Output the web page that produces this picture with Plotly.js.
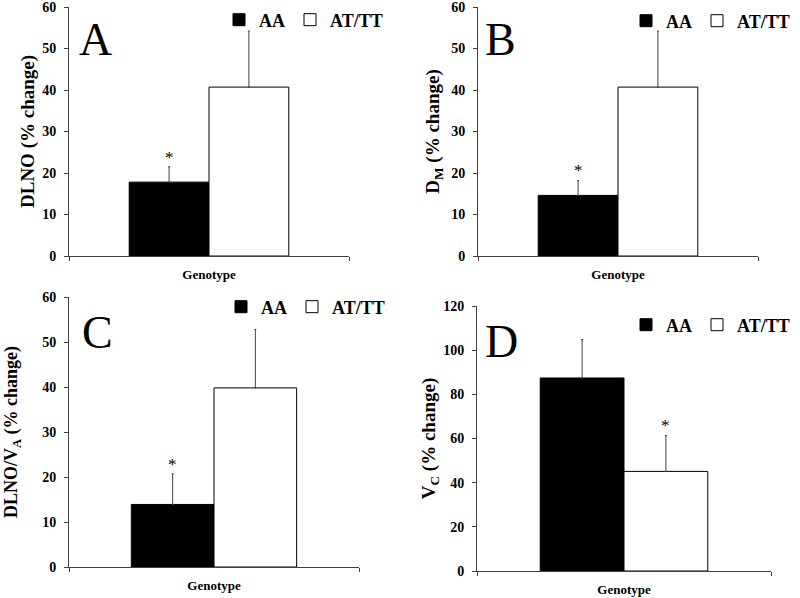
<!DOCTYPE html>
<html>
<head>
<meta charset="utf-8">
<script src="https://cdn.plot.ly/plotly-3.0.1.min.js"></script>
<style>html,body{margin:0;padding:0;background:#fff;}#chart{width:800px;height:598px;}</style>
</head>
<body>
<div id="chart"></div>
<script>
// ---- data ----
const categories = ['Genotype'];
const groupNames = ['AA', 'AT/TT'];
const panelLetters = ['A', 'B', 'C', 'D'];
const yTitles = ['DLNO (% change)', 'D<sub>M</sub> (% change)', 'DLNO/V<sub>A</sub> (% change)', 'V<sub>C</sub> (% change)'];
const aaMean = [17.8, 14.6, 13.9, 87.4];
const aaErr = [3.7, 3.6, 6.8, 17.4];
const attMean = [40.7, 40.7, 39.8, 45.1];
const attErr = [13.5, 13.5, 13.0, 16.3];
const yMax = [60, 60, 60, 120];
const yStep = [10, 10, 10, 20];
const sigGroup = ['AA', 'AA', 'AA', 'AT/TT'];

// ---- layout (positions in px) ----
const W = 800, H = 598;
const boxes = [ // [left, right, top, bottom] of plot areas
  [69, 349, 7, 256],
  [478, 758, 7, 256],
  [69, 359, 297, 567],
  [477, 771, 306, 571]
];
const legendPos = [[388, 20], [795, 21], [390, 307], [795, 325]];
const letterPos = [[95, 40], [500, 40], [97, 332], [502, 341]];
const titleStandoff = [2, 6, 19, 2];
const titleSize = [19, 19, 18, 19];
const BARGAP = 0.43;

const FONT = 'Liberation Serif';
const AXC = '#404040';
const traces = [];
const layout = {
  width: W, height: H,
  margin: {l: 0, r: 0, t: 0, b: 0},
  paper_bgcolor: '#fff', plot_bgcolor: '#fff',
  barmode: 'group', bargap: BARGAP, bargroupgap: 0,
  font: {family: FONT, color: '#000', size: 14},
  showlegend: true,
  annotations: []
};

for (let i = 0; i < 4; i++) {
  const s = i === 0 ? '' : String(i + 1);
  const xa = 'x' + s, ya = 'y' + s, lg = 'legend' + s;
  const [l, r, t, b] = boxes[i];
  traces.push({
    type: 'bar', name: groupNames[0], x: categories, y: [aaMean[i]],
    xaxis: xa, yaxis: ya, legend: lg,
    marker: {color: '#000', line: {color: '#000', width: 1}},
    error_y: {type: 'data', array: [aaErr[i]], arrayminus: [0], symmetric: false, color: AXC, thickness: 1, width: 1}
  });
  traces.push({
    type: 'bar', name: groupNames[1], x: categories, y: [attMean[i]],
    xaxis: xa, yaxis: ya, legend: lg,
    marker: {color: '#fff', line: {color: '#000', width: 1}},
    error_y: {type: 'data', array: [attErr[i]], arrayminus: [0], symmetric: false, color: AXC, thickness: 1, width: 1}
  });
  layout['xaxis' + s] = {
    domain: [l / W, r / W], anchor: ya,
    type: 'category', range: [-0.5, 0.5],
    showline: true, linecolor: AXC, linewidth: 1,
    ticks: 'outside', tickson: 'boundaries', ticklen: 4, tickcolor: AXC,
    ticklabelstandoff: 6,
    showgrid: false, zeroline: false, fixedrange: true,
    tickfont: {family: FONT, size: 13, color: '#000', weight: 'bold'}
  };
  layout['yaxis' + s] = {
    domain: [1 - b / H, 1 - t / H], anchor: xa,
    range: [0, yMax[i]], dtick: yStep[i], tick0: 0,
    showline: true, linecolor: AXC, linewidth: 1,
    ticks: 'outside', ticklen: 4, tickcolor: AXC, ticklabelstandoff: 5,
    ticklabeloverflow: 'allow',
    showgrid: false, zeroline: false, fixedrange: true,
    tickfont: {family: FONT, size: 14, color: '#000', weight: 'bold'},
    title: {text: yTitles[i], standoff: titleStandoff[i], font: {family: FONT, size: titleSize[i], color: '#000', weight: 'bold'}}
  };
  layout[lg] = {
    orientation: 'h', xref: 'paper', yref: 'paper',
    x: legendPos[i][0] / W, y: 1 - legendPos[i][1] / H,
    xanchor: 'right', yanchor: 'middle',
    bgcolor: 'rgba(0,0,0,0)', borderwidth: 0,
    font: {family: FONT, size: 18, color: '#000', weight: 'bold'},
    itemclick: false, itemdoubleclick: false, tracegroupgap: 0
  };
  layout.annotations.push({
    xref: 'paper', yref: 'paper', x: letterPos[i][0] / W, y: 1 - letterPos[i][1] / H,
    xanchor: 'center', yanchor: 'middle', showarrow: false,
    text: panelLetters[i], font: {family: FONT, size: 46, color: '#000'}
  });
  const gi = groupNames.indexOf(sigGroup[i]);
  const half = (1 - BARGAP) / 4;
  const top = gi === 0 ? aaMean[i] + aaErr[i] : attMean[i] + attErr[i];
  layout.annotations.push({
    xref: xa, yref: ya, x: gi === 0 ? -half : half, y: top,
    xanchor: 'center', yanchor: 'bottom', yshift: -2, showarrow: false,
    text: '*', font: {family: FONT, size: 17, color: '#000'}
  });
}

Plotly.newPlot('chart', traces, layout, {displayModeBar: false, staticPlot: true});
</script>
</body>
</html>
